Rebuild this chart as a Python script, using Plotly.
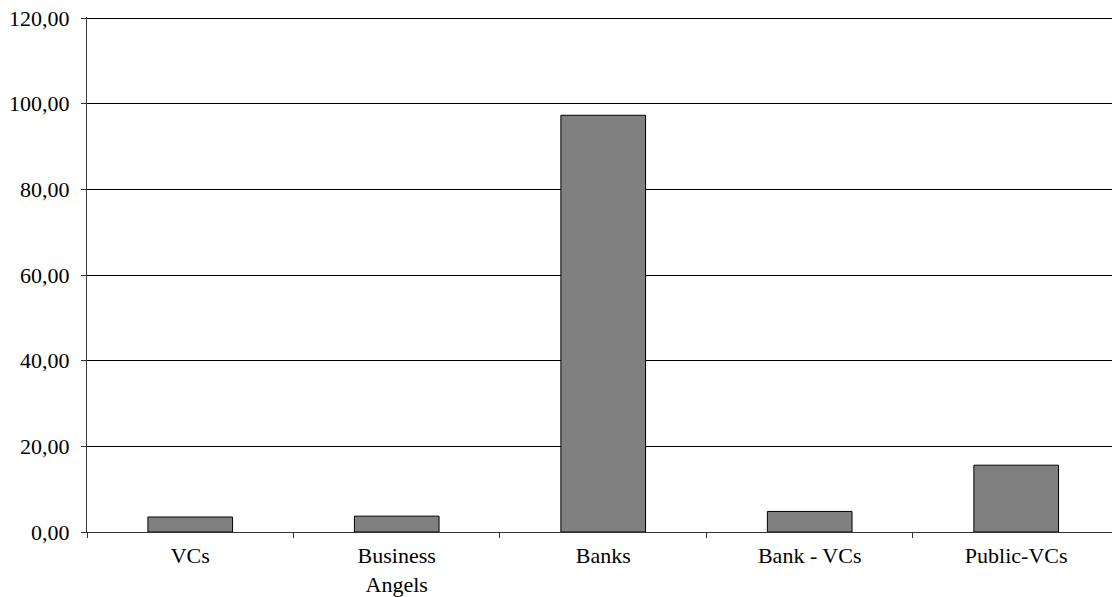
import plotly.graph_objects as go

categories = ["VCs", "Business<br>Angels", "Banks", "Bank - VCs", "Public-VCs"]
values = [3.5, 3.7, 97.3, 4.8, 15.6]
y_ticks = [0, 20, 40, 60, 80, 100, 120]

fig = go.Figure()
fig.add_trace(go.Bar(
    x=categories, y=values,
    marker=dict(color="#808080", line=dict(color="#000000", width=1)),
    width=0.41,
))

tf = dict(family="Liberation Serif", size=22, color="#000000")

fig.update_layout(
    width=1112, height=597,
    margin=dict(l=87, r=0, t=17, b=65),
    plot_bgcolor="#ffffff", paper_bgcolor="#ffffff",
    separators=", ",
    font=tf,
    showlegend=False,
    bargap=0.59,
)
fig.update_xaxes(
    type="category",
    range=[-0.5, 4.464],
    showgrid=False,
    showline=True, linecolor="#333333", linewidth=1,
    ticks="outside", tickson="boundaries", ticklen=5, tickcolor="#333333",
    ticklabelstandoff=4,
    tickfont=tf,
)
fig.update_yaxes(
    range=[0, 120.25],
    tickvals=y_ticks,
    tickformat=".2f",
    showgrid=True, gridcolor="#000000", gridwidth=1,
    showline=True, linecolor="#333333", linewidth=1,
    ticks="outside", ticklen=5, tickcolor="#333333",
    ticklabelstandoff=7,
    zeroline=False,
    tickfont=tf,
)

fig.write_html("out.html", post_script="document.body.style.margin='0';",
               config={"displayModeBar": False})
